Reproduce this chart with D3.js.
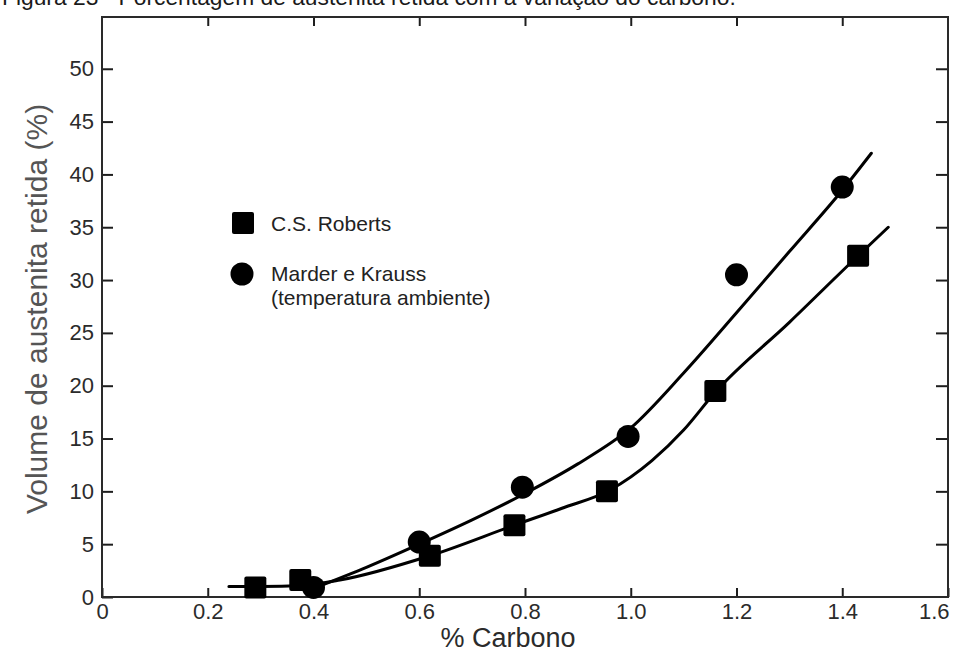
<!DOCTYPE html>
<html>

<head>
  <title>Austenita retida x carbono</title>
  <meta charset="utf-8">
  <style>
    body {
      padding: 0;
      margin: 0;
      background: white;
      font-family: "Liberation Sans", Arial, sans-serif;
    }
    .frame {
      fill: none;
      stroke: #2a2a2a;
      stroke-width: 2;
    }
    .axis .domain {
      display: none;
    }
    .axis line {
      stroke: #1e1e1e;
      stroke-width: 2;
    }
    .axis text {
      fill: #2b2b2b;
      font-family: "Liberation Sans", Arial, sans-serif;
    }
    .fit {
      fill: none;
      stroke: black;
      stroke-width: 3;
      stroke-linecap: round;
    }
    .legend text {
      fill: #222;
      font-size: 21px;
    }
  </style>
</head>

<body>
  <div id="chart"></div>

  <script src="https://d3js.org/d3.v7.min.js"></script>
  <script>
    // data
    // C.S. Roberts (squares)
    var robertsCarbon = [0.29, 0.375, 0.62, 0.78, 0.955, 1.16, 1.43]
    var robertsVolume = [0.9, 1.6, 3.9, 6.8, 10.0, 19.5, 32.3]

    // Marder e Krauss (circles)
    var marderCarbon = [0.40, 0.60, 0.795, 0.995, 1.20, 1.40]
    var marderVolume = [0.9, 5.2, 10.4, 15.2, 30.5, 38.8]

    // drawn fit curves
    var robertsFitCarbon = [0.24, 0.30, 0.38, 0.45, 0.62, 0.78, 0.87, 0.96, 1.04, 1.10, 1.16, 1.30, 1.43, 1.487]
    var robertsFitVolume = [1.0, 1.0, 1.1, 1.6, 3.9, 6.8, 8.4, 10.1, 12.9, 15.8, 19.4, 26.0, 32.3, 35.0]
    var marderFitCarbon = [0.41, 0.50, 0.60, 0.70, 0.80, 0.90, 1.00, 1.10, 1.20, 1.30, 1.40, 1.455]
    var marderFitVolume = [1.0, 2.8, 5.0, 7.3, 9.8, 12.6, 16.0, 21.2, 26.9, 32.7, 38.5, 42.0]

    // axis ticks
    var xTicks = [0, 0.2, 0.4, 0.6, 0.8, 1.0, 1.2, 1.4, 1.6]
    var xTickLabels = ["0", "0.2", "0.4", "0.6", "0.8", "1.0", "1.2", "1.4", "1.6"]
    var yTicks = [0, 5, 10, 15, 20, 25, 30, 35, 40, 45, 50]

    var width = 954,
      height = 653

    var svg = d3.select("#chart")
      .append("svg")
      .attr("width", width)
      .attr("height", height)

    // plot box (don't call these top/left, window.top is read only)
    var boxLeft = 102, boxRight = 948, boxTop = 17, boxBottom = 597

    var x = d3.scaleLinear().domain([0, 1.6]).range([boxLeft, boxRight])
    var y = d3.scaleLinear().domain([0, 54.9]).range([boxBottom, boxTop])

    // caption, half cut by the top of the page
    svg.append("text")
      .attr("x", 2)
      .attr("y", 5)
      .style("font-size", "22.8px")
      .style("fill", "#1a1a1a")
      .text("Figura 23 - Porcentagem de austenita retida com a variação do carbono.")

    // ticks on all four sides, pointing inwards
    var xLabels = svg.append("g")
      .attr("class", "axis")
      .attr("transform", "translate(0," + boxBottom + ")")
      .call(d3.axisBottom(x).tickValues(xTicks).tickSizeInner(-9).tickSizeOuter(0).tickPadding(6)
        .tickFormat(function (d, i) { return xTickLabels[i] }))
      .selectAll("text").style("font-size", "22px")

    // last label sits inside the page, flush with the frame
    xLabels.filter(function (d) { return d === 1.6 })
      .attr("text-anchor", "end")
      .attr("x", 1)

    svg.append("g")
      .attr("class", "axis")
      .attr("transform", "translate(0," + boxTop + ")")
      .call(d3.axisTop(x).tickValues(xTicks.slice(1, -1)).tickSizeInner(-9).tickSizeOuter(0).tickFormat(""))

    svg.append("g")
      .attr("class", "axis")
      .attr("transform", "translate(" + boxLeft + ",0)")
      .call(d3.axisLeft(y).tickValues(yTicks).tickSizeInner(-11).tickSizeOuter(0).tickPadding(8))
      .selectAll("text").style("font-size", "22px")

    svg.append("g")
      .attr("class", "axis")
      .attr("transform", "translate(" + boxRight + ",0)")
      .call(d3.axisRight(y).tickValues(yTicks.slice(1)).tickSizeInner(-12).tickSizeOuter(0).tickFormat(""))

    svg.append("rect")
      .attr("class", "frame")
      .attr("x", boxLeft)
      .attr("y", boxTop)
      .attr("width", boxRight - boxLeft)
      .attr("height", boxBottom - boxTop)

    // axis titles
    svg.append("text")
      .attr("x", 508)
      .attr("y", 647)
      .attr("text-anchor", "middle")
      .style("font-size", "27px")
      .style("fill", "#2b2b2b")
      .text("% Carbono")

    svg.append("text")
      .attr("transform", "translate(47,309) rotate(-90)")
      .attr("text-anchor", "middle")
      .style("font-size", "30px")
      .style("fill", "#555")
      .text("Volume de austenita retida (%)")

    // fitted curves
    var line = d3.line()
      .x(function (d) { return x(d[0]) })
      .y(function (d) { return y(d[1]) })
      .curve(d3.curveMonotoneX)

    svg.append("path")
      .attr("class", "fit")
      .attr("d", line(d3.zip(robertsFitCarbon, robertsFitVolume)))

    svg.append("path")
      .attr("class", "fit")
      .attr("d", line(d3.zip(marderFitCarbon, marderFitVolume)))

    // markers
    var sq = 22
    svg.append("g")
      .selectAll("rect")
      .data(d3.zip(robertsCarbon, robertsVolume))
      .enter().append("rect")
      .attr("x", function (d) { return x(d[0]) - sq / 2 })
      .attr("y", function (d) { return y(d[1]) - sq / 2 })
      .attr("width", sq)
      .attr("height", sq)
      .attr("rx", 2)
      .style("fill", "black")

    svg.append("g")
      .selectAll("circle")
      .data(d3.zip(marderCarbon, marderVolume))
      .enter().append("circle")
      .attr("cx", function (d) { return x(d[0]) })
      .attr("cy", function (d) { return y(d[1]) })
      .attr("r", 11.5)
      .style("fill", "black")

    // legend
    var legend = svg.append("g").attr("class", "legend")

    legend.append("rect")
      .attr("x", 232)
      .attr("y", 212)
      .attr("width", sq)
      .attr("height", sq)
      .attr("rx", 2)
      .style("fill", "black")
    legend.append("text")
      .attr("x", 271)
      .attr("y", 231)
      .text("C.S. Roberts")

    legend.append("circle")
      .attr("cx", 242)
      .attr("cy", 274)
      .attr("r", 11.5)
      .style("fill", "black")
    legend.append("text")
      .attr("x", 271)
      .attr("y", 281)
      .text("Marder e Krauss")
    legend.append("text")
      .attr("x", 271)
      .attr("y", 305)
      .text("(temperatura ambiente)")
  </script>
</body>

</html>
